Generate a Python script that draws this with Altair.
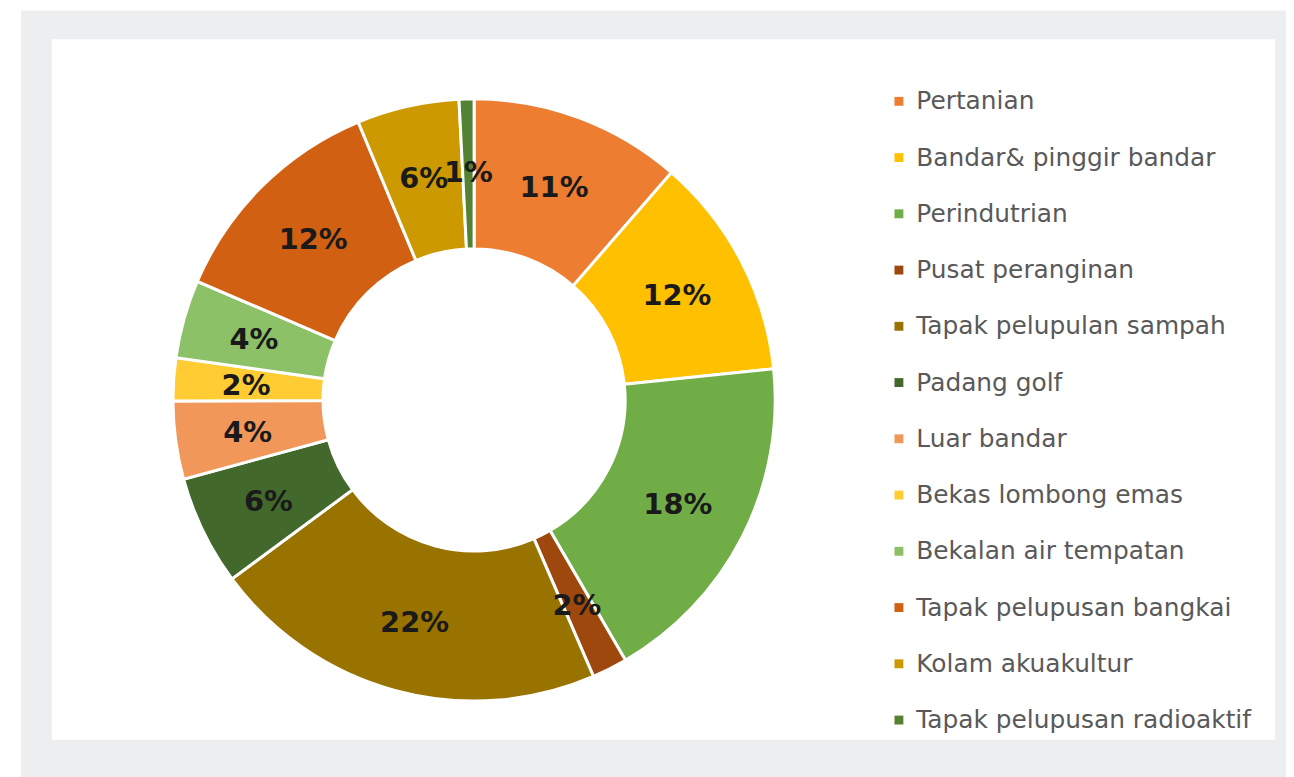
import altair as alt
import pandas as pd

categories = [
    "Pertanian", "Bandar& pinggir bandar", "Perindutrian", "Pusat peranginan",
    "Tapak pelupulan sampah", "Padang golf", "Luar bandar", "Bekas lombong emas",
    "Bekalan air tempatan", "Tapak pelupusan bangkai", "Kolam akuakultur",
    "Tapak pelupusan radioaktif",
]
shares = [11.4, 12.0, 18.3, 1.9, 21.4, 5.9, 4.2, 2.3, 4.2, 12.3, 5.5, 0.8]
labels = ["11%", "12%", "18%", "2%", "22%", "6%", "4%", "2%", "4%", "12%", "6%", "1%"]
colors = ["#ED7D31", "#FFC000", "#70AD47", "#9E480E", "#997300", "#43682B",
          "#F1975A", "#FFCD33", "#8CC168", "#D26012", "#CC9A00", "#548235"]

df = pd.DataFrame({"cat": categories, "share": shares, "label": labels,
                   "idx": list(range(len(categories)))})

W, H = 1286, 769
CX, CY = 469, 392

bg = alt.Chart(pd.DataFrame({"a": [0]})).mark_rect(color="#EDEEF0").encode(
    x=alt.value(13), x2=alt.value(W + 10), y=alt.value(0), y2=alt.value(H + 10))
panel = alt.Chart(pd.DataFrame({"a": [0]})).mark_rect(color="#FFFFFF").encode(
    x=alt.value(44), x2=alt.value(1275), y=alt.value(29), y2=alt.value(734))

base = alt.Chart(df).encode(
    theta=alt.Theta("share:Q", stack=True),
    order=alt.Order("idx:Q"),
)

arcs = base.mark_arc(outerRadius=303, innerRadius=152, stroke="white",
                     strokeWidth=3).encode(
    x=alt.value(CX), y=alt.value(CY),
    color=alt.Color("cat:N", scale=alt.Scale(domain=categories, range=colors),
                    legend=alt.Legend(
                        title=None, orient="none", legendX=884, legendY=79,
                        symbolType="square", symbolSize=80, symbolStrokeWidth=0,
                        labelFont="DejaVu Sans", labelFontSize=25,
                        labelColor="#595959", rowPadding=30.6, labelOffset=5,
                        labelLimit=420)),
)

text = base.mark_text(radius=230, font="DejaVu Sans", fontSize=29,
                      fontWeight="bold", color="#1A1A1A").encode(
    x=alt.value(CX), y=alt.value(CY + 2),
    text="label:N",
)

chart = alt.layer(bg, panel, arcs, text).properties(
    width=W, height=H, padding=0, autosize=alt.AutoSizeParams(type="none")
).configure_view(stroke=None)

chart.save("out.html", embed_options={"renderer": "svg", "actions": False})
